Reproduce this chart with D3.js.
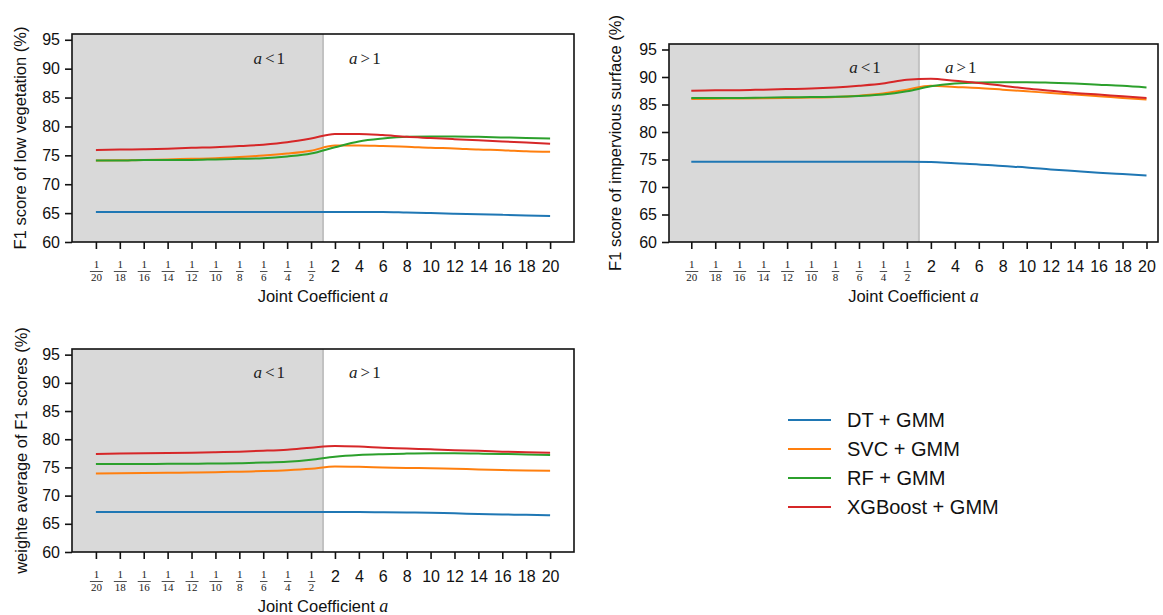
<!DOCTYPE html>
<html>
<head>
<meta charset="utf-8">
<script src="https://cdn.jsdelivr.net/npm/d3@7"></script>
<style>
  html, body { margin: 0; padding: 0; background: #fff; }
  svg { display: block; font-family: "Liberation Sans", Arial, sans-serif; }
</style>
</head>
<body>
<svg id="chart" width="1163" height="615"></svg>
<script>
// tick labels along x (index positions 0..19)
const xLabels = ['1/20','1/18','1/16','1/14','1/12','1/10','1/8','1/6','1/4','1/2',
                 '2','4','6','8','10','12','14','16','18','20'];
const yTicks = [60, 65, 70, 75, 80, 85, 90, 95];

const seriesNames = ['DT + GMM', 'SVC + GMM', 'RF + GMM', 'XGBoost + GMM'];
const seriesColors = ['#1f77b4', '#ff7f0e', '#2ca02c', '#d62728'];

// low vegetation
const lowVegDT  = [65.2,65.2,65.2,65.2,65.2,65.2,65.2,65.2,65.2,65.2,65.2,65.2,65.2,65.1,65.0,64.9,64.8,64.7,64.6,64.5];
const lowVegSVC = [74.1,74.15,74.2,74.3,74.4,74.5,74.7,74.95,75.3,75.8,76.7,76.7,76.6,76.5,76.3,76.2,76.0,75.9,75.7,75.6];
const lowVegRF  = [74.1,74.1,74.2,74.2,74.2,74.3,74.4,74.5,74.8,75.3,76.4,77.4,77.9,78.2,78.25,78.25,78.2,78.1,78.0,77.9];
const lowVegXGB = [75.9,76.0,76.05,76.15,76.3,76.4,76.6,76.85,77.25,77.9,78.7,78.7,78.5,78.2,78.0,77.8,77.6,77.4,77.2,77.0];

// impervious surface
const impDT  = [74.6,74.6,74.6,74.6,74.6,74.6,74.6,74.6,74.6,74.6,74.55,74.3,74.1,73.8,73.55,73.2,72.9,72.6,72.35,72.1];
const impSVC = [86.0,86.05,86.1,86.15,86.2,86.25,86.35,86.6,87.0,87.7,88.4,88.2,88.0,87.7,87.4,87.1,86.8,86.5,86.2,85.9];
const impRF  = [86.2,86.2,86.2,86.25,86.3,86.35,86.4,86.55,86.8,87.4,88.3,88.8,89.0,89.05,89.05,88.95,88.8,88.6,88.4,88.1];
const impXGB = [87.5,87.6,87.6,87.7,87.8,87.9,88.1,88.4,88.8,89.5,89.7,89.3,88.9,88.4,87.9,87.5,87.1,86.8,86.5,86.2];

// weighted average
const avgDT  = [67.1,67.1,67.1,67.1,67.1,67.1,67.1,67.1,67.1,67.1,67.1,67.1,67.05,67.0,66.95,66.85,66.75,66.65,66.6,66.5];
const avgSVC = [73.9,73.95,74.0,74.05,74.1,74.15,74.25,74.35,74.5,74.75,75.15,75.1,75.0,74.9,74.85,74.75,74.65,74.55,74.45,74.4];
const avgRF  = [75.6,75.6,75.6,75.65,75.65,75.7,75.75,75.85,76.0,76.35,76.9,77.2,77.35,77.45,77.5,77.5,77.45,77.4,77.3,77.2];
const avgXGB = [77.4,77.45,77.5,77.55,77.6,77.7,77.8,77.95,78.15,78.5,78.8,78.7,78.5,78.35,78.2,78.05,77.95,77.8,77.7,77.6];

const svg = d3.select('#chart');
const FONT_SANS  = '"Liberation Sans", Arial, sans-serif';
const FONT_SERIF = '"Liberation Serif", "DejaVu Serif", serif';

function drawPanel(p) {
  const x = d3.scaleLinear().domain(p.xDomain).range([p.left, p.right]);
  const y = d3.scaleLinear().domain([60, 96]).range([p.bottom, p.top]);
  const g = svg.append('g');

  // shaded a<1 region
  g.append('rect')
    .attr('x', p.left).attr('y', p.top)
    .attr('width', x(9.5) - p.left).attr('height', p.bottom - p.top)
    .attr('fill', '#d9d9d9');
  g.append('line')
    .attr('x1', x(9.5)).attr('x2', x(9.5)).attr('y1', p.top).attr('y2', p.bottom)
    .attr('stroke', '#c2c2c2').attr('stroke-width', 2);

  // region labels
  [[7.25, '<'], [11.25, '>']].forEach(([pos, sym]) => {
    const t = g.append('text')
      .attr('x', x(pos)).attr('y', y(90.8))
      .attr('text-anchor', 'middle')
      .style('font-family', FONT_SERIF).style('font-size', '17px').attr('fill', '#222');
    t.append('tspan').style('font-style', 'italic').text('a');
    t.append('tspan').attr('dx', 3).text(sym);
    t.append('tspan').attr('dx', 2).text('1');
  });

  // lines
  const line = d3.line().x((d, i) => x(i)).y(d => y(d)).curve(d3.curveMonotoneX);
  p.series.forEach((s, i) => {
    g.append('path').datum(s)
      .attr('d', line)
      .attr('fill', 'none')
      .attr('stroke', seriesColors[i])
      .attr('stroke-width', 2);
  });

  // y axis
  const ya = g.append('g').attr('transform', `translate(${p.left},0)`)
    .call(d3.axisLeft(y).tickValues(yTicks).tickSize(7).tickPadding(5));
  ya.select('.domain').remove();
  ya.selectAll('line').attr('stroke', '#111').attr('stroke-width', 1.6);
  ya.selectAll('text').style('font-size', '16px').attr('fill', '#111')
    .style('font-family', FONT_SANS);

  // x axis
  const xa = g.append('g').attr('transform', `translate(0,${p.bottom})`)
    .call(d3.axisBottom(x).tickValues(d3.range(xLabels.length)).tickSize(7).tickFormat(''));
  xa.select('.domain').remove();
  xa.selectAll('line').attr('stroke', '#111').attr('stroke-width', 1.6);
  xa.selectAll('.tick').each(function(d) {
    const tick = d3.select(this);
    const lab = xLabels[d];
    if (lab.includes('/')) {
      const [num, den] = lab.split('/');
      tick.append('text').attr('y', 25.5).attr('text-anchor', 'middle')
        .style('font-family', FONT_SERIF).style('font-size', '11px').attr('fill', '#222').text(num);
      const dt = tick.append('text').attr('y', 38.5).attr('text-anchor', 'middle')
        .style('font-family', FONT_SERIF).style('font-size', '11px').attr('fill', '#222').text(den);
      const w = dt.node().getComputedTextLength() + 2;
      tick.append('line').attr('x1', -w / 2).attr('x2', w / 2).attr('y1', 29.5).attr('y2', 29.5)
        .attr('stroke', '#222').attr('stroke-width', 0.8);
    } else {
      tick.append('text').attr('y', 29.5).attr('text-anchor', 'middle')
        .style('font-family', FONT_SANS).style('font-size', '16px').attr('fill', '#111').text(lab);
    }
  });

  // frame
  g.append('rect')
    .attr('x', p.left).attr('y', p.top)
    .attr('width', p.right - p.left).attr('height', p.bottom - p.top)
    .attr('fill', 'none').attr('stroke', '#111').attr('stroke-width', 1.6);

  // axis titles
  const xt = g.append('text')
    .attr('x', (p.left + p.right) / 2).attr('y', p.bottom + 60)
    .attr('text-anchor', 'middle').style('font-size', '16.5px').attr('fill', '#111');
  xt.append('tspan').text('Joint Coefficient ');
  xt.append('tspan').style('font-family', FONT_SERIF).style('font-style', 'italic').style('font-size', '18px').text('a');

  g.append('text')
    .attr('transform', `translate(${p.ylabelX},${(p.top + p.bottom) / 2}) rotate(-90)`)
    .attr('text-anchor', 'middle').attr('dy', '0.35em')
    .style('font-size', '16.5px').attr('fill', '#111')
    .text(p.ylabel);
}

drawPanel({ left: 72, right: 574, top: 34, bottom: 242, xDomain: [-1, 20], ylabelX: 20,
  ylabel: 'F1 score of low vegetation (%)', series: [lowVegDT, lowVegSVC, lowVegRF, lowVegXGB] });
drawPanel({ left: 669, right: 1158, top: 44, bottom: 242, xDomain: [-0.93, 19.48], ylabelX: 615,
  ylabel: 'F1 score of impervious surface (%)', series: [impDT, impSVC, impRF, impXGB] });
drawPanel({ left: 72, right: 574, top: 349, bottom: 552, xDomain: [-1, 20], ylabelX: 21,
  ylabel: 'weighte average of F1 scores (%)', series: [avgDT, avgSVC, avgRF, avgXGB] });

// legend
const legend = svg.append('g').attr('transform', 'translate(788,420)');
seriesNames.forEach((name, i) => {
  const row = legend.append('g').attr('transform', `translate(0,${i * 29})`);
  row.append('line').attr('x1', 0).attr('x2', 43).attr('y1', 0).attr('y2', 0)
    .attr('stroke', seriesColors[i]).attr('stroke-width', 2.2);
  row.append('text').attr('x', 59).attr('dy', '0.35em')
    .style('font-size', '20px').attr('fill', '#111').text(name);
});
</script>
</body>
</html>
